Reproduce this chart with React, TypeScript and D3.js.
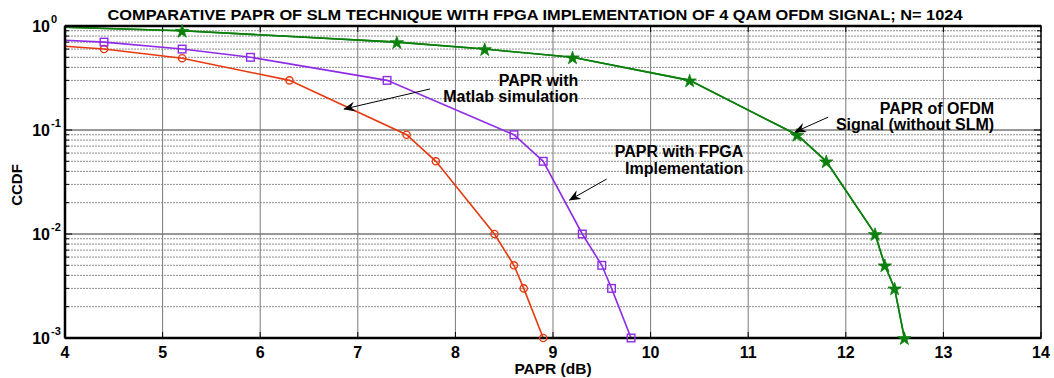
import React, { useEffect, useRef } from "react";
import * as d3 from "d3";

// PAPR (dB) / CCDF; first point lies left of the axis and is clipped
const matlabX = [3.6, 4.4, 5.2, 6.3, 7.5, 7.8, 8.4, 8.6, 8.7, 8.9];
const matlabY = [0.68, 0.6, 0.49, 0.3, 0.09, 0.05, 0.01, 0.005, 0.003, 0.001];

const fpgaX = [3.6, 4.4, 5.2, 5.9, 7.3, 8.6, 8.9, 9.3, 9.5, 9.6, 9.8];
const fpgaY = [0.76, 0.7, 0.6, 0.5, 0.3, 0.09, 0.05, 0.01, 0.005, 0.003, 0.001];

const ofdmX = [3.6, 5.2, 7.4, 8.3, 9.2, 10.4, 11.5, 11.8, 12.3, 12.4, 12.5, 12.6];
const ofdmY = [1.0, 0.9, 0.7, 0.6, 0.5, 0.3, 0.09, 0.05, 0.01, 0.005, 0.003, 0.001];

const xTicks = [4, 5, 6, 7, 8, 9, 10, 11, 12, 13, 14];
const yDecades = [1, 0.1, 0.01, 0.001];
const yExponents = ["0", "-1", "-2", "-3"];

const title =
  "COMPARATIVE PAPR OF SLM TECHNIQUE WITH FPGA IMPLEMENTATION OF 4 QAM OFDM SIGNAL; N= 1024";

// annotations: text lines, anchor (data coords), arrow tail -> head (data coords)
const notes = [
  { lines: ["PAPR with", "Matlab simulation"], x: 9.26, y: 0.265, tail: [7.74, 0.248], head: [6.86, 0.159] },
  { lines: ["PAPR with FPGA", "Implementation"], x: 10.95, y: 0.055, tail: [9.55, 0.0338], head: [9.17, 0.0212] },
  { lines: ["PAPR of OFDM", "Signal (without SLM)"], x: 13.52, y: 0.1426, tail: [11.82, 0.133], head: [11.48, 0.0957] },
];

const W = 1054;
const H = 378;
const margin = { top: 26, right: 13, bottom: 40, left: 65 };
const font = "'Liberation Sans', Arial, sans-serif";

function App() {
  const ref = useRef<SVGSVGElement>(null);

  useEffect(() => {
    const svg = d3.select(ref.current);
    svg.selectAll("*").remove();

    const x = d3.scaleLinear().domain([4, 14]).range([margin.left, W - margin.right]);
    const y = d3.scaleLog().domain([0.001, 1]).range([H - margin.bottom, margin.top]);
    const [x0, x1] = x.range();
    const [y1, y0] = y.range();

    svg.append("defs").append("clipPath").attr("id", "plot-clip")
      .append("rect").attr("x", x0).attr("y", y0).attr("width", x1 - x0).attr("height", y1 - y0);

    svg.append("defs").append("marker")
      .attr("id", "arrow").attr("viewBox", "0 0 12 10").attr("refX", 11).attr("refY", 5)
      .attr("markerWidth", 12).attr("markerHeight", 10).attr("markerUnits", "userSpaceOnUse")
      .attr("orient", "auto")
      .append("path").attr("d", "M0,0 L12,5 L0,10 L4,5 Z").attr("fill", "black");

    const minor: number[] = [];
    [0.001, 0.01, 0.1].forEach(d => {
      for (let k = 2; k <= 9; k++) minor.push(d * k);
    });

    // grid
    const grid = svg.append("g");
    grid.selectAll(".ym").data(minor).join("line")
      .attr("x1", x0).attr("x2", x1).attr("y1", d => y(d)).attr("y2", d => y(d))
      .attr("stroke", "#8c8c8c").attr("stroke-dasharray", "2,1");
    grid.selectAll(".yM").data(yDecades.slice(1, 3)).join("line")
      .attr("x1", x0).attr("x2", x1).attr("y1", d => y(d)).attr("y2", d => y(d))
      .attr("stroke", "#333");
    grid.selectAll(".xg").data(xTicks.slice(1, -1)).join("line")
      .attr("x1", d => x(d)).attr("x2", d => x(d)).attr("y1", y0).attr("y2", y1)
      .attr("stroke", "#7a7a7a");

    // ticks (inside)
    const ticks = svg.append("g").attr("stroke", "black");
    xTicks.forEach(t => {
      ticks.append("line").attr("x1", x(t)).attr("x2", x(t)).attr("y1", y1).attr("y2", y1 - 6);
      ticks.append("line").attr("x1", x(t)).attr("x2", x(t)).attr("y1", y0).attr("y2", y0 + 6);
    });
    minor.concat(yDecades).forEach(v => {
      const len = yDecades.includes(v) ? 7 : 4;
      ticks.append("line").attr("x1", x0).attr("x2", x0 + len).attr("y1", y(v)).attr("y2", y(v));
      ticks.append("line").attr("x1", x1).attr("x2", x1 - len).attr("y1", y(v)).attr("y2", y(v));
    });

    // series
    const series = [
      { xs: matlabX, ys: matlabY, color: "#e8380d", shape: "circle" },
      { xs: fpgaX, ys: fpgaY, color: "#8f2be6", shape: "square" },
      { xs: ofdmX, ys: ofdmY, color: "#0c800c", shape: "star" },
    ];
    const line = d3.line<[number, number]>().x(d => x(d[0])).y(d => y(d[1]));
    const plot = svg.append("g").attr("clip-path", "url(#plot-clip)");
    series.forEach(s => {
      const pts = s.xs.map((v, i) => [v, s.ys[i]] as [number, number]);
      plot.append("path").attr("d", line(pts)).attr("fill", "none")
        .attr("stroke", s.color).attr("stroke-width", 1.6);
    });

    // axes box
    svg.append("rect").attr("x", x0).attr("y", y0).attr("width", x1 - x0).attr("height", y1 - y0)
      .attr("fill", "none").attr("stroke", "black").attr("stroke-width", 1.5);
    svg.append("line").attr("x1", x0).attr("x2", x1).attr("y1", y1).attr("y2", y1)
      .attr("stroke", "black").attr("stroke-width", 2.5);
    svg.append("line").attr("x1", x0).attr("x2", x1).attr("y1", y0).attr("y2", y0)
      .attr("stroke", "black").attr("stroke-width", 2.5);
    svg.append("line").attr("x1", x0).attr("x2", x0).attr("y1", y0).attr("y2", y1)
      .attr("stroke", "black").attr("stroke-width", 2.5);

    // green line over top axis like the reference
    plot.append("path")
      .attr("d", line(ofdmX.map((v, i) => [v, ofdmY[i]] as [number, number])))
      .attr("fill", "none").attr("stroke", "#0c800c").attr("stroke-width", 1.6);

    // markers
    const star = d3.symbol().type(d3.symbolStar).size(55);
    series.forEach(s => {
      const pts = s.xs.map((v, i) => [v, s.ys[i]] as [number, number]).filter(d => d[0] >= 4);
      const g = svg.append("g");
      if (s.shape === "circle") {
        g.selectAll("circle").data(pts).join("circle")
          .attr("cx", d => x(d[0])).attr("cy", d => y(d[1])).attr("r", 3.6)
          .attr("fill", "none").attr("stroke", s.color).attr("stroke-width", 1.4);
      } else if (s.shape === "square") {
        g.selectAll("rect").data(pts).join("rect")
          .attr("x", d => x(d[0]) - 3.8).attr("y", d => y(d[1]) - 3.8)
          .attr("width", 7.6).attr("height", 7.6)
          .attr("fill", "none").attr("stroke", s.color).attr("stroke-width", 1.4);
      } else {
        g.selectAll("path").data(pts).join("path")
          .attr("d", star() as string)
          .attr("transform", d => `translate(${x(d[0])},${y(d[1]) + 0.8})`)
          .attr("fill", s.color).attr("stroke", s.color).attr("stroke-width", 0.8);
      }
    });

    // tick labels
    svg.append("g").selectAll("text").data(xTicks).join("text")
      .attr("x", d => x(d)).attr("y", y1 + 20)
      .attr("text-anchor", "middle").attr("font-family", font).attr("font-weight", "bold")
      .attr("font-size", 16).text(d => String(d));

    const yl = svg.append("g").attr("font-family", font).attr("font-weight", "bold");
    yDecades.forEach((d, i) => {
      yl.append("text").attr("x", 50).attr("y", y(d) + 6)
        .attr("text-anchor", "end").attr("font-size", 16).text("10");
      yl.append("text").attr("x", 51).attr("y", y(d) - 3)
        .attr("font-size", 11).text(yExponents[i]);
    });

    // title and axis labels
    svg.append("text").attr("x", 535).attr("y", 20).attr("text-anchor", "middle")
      .attr("font-family", font).attr("font-weight", "bold").attr("font-size", 15)
      .attr("textLength", 855).attr("lengthAdjust", "spacingAndGlyphs").text(title);
    svg.append("text").attr("x", 553).attr("y", 374).attr("text-anchor", "middle")
      .attr("font-family", font).attr("font-weight", "bold").attr("font-size", 15.5)
      .text("PAPR (dB)");
    svg.append("text").attr("transform", `translate(22,${(y0 + y1) / 2 + 3}) rotate(-90)`)
      .attr("text-anchor", "middle")
      .attr("font-family", font).attr("font-weight", "bold").attr("font-size", 15)
      .text("CCDF");

    // annotations
    notes.forEach(n => {
      const t = svg.append("text").attr("font-family", font).attr("font-weight", "bold")
        .attr("font-size", 16).attr("text-anchor", "end");
      n.lines.forEach((l, i) => {
        t.append("tspan").attr("x", x(n.x)).attr("y", y(n.y) + i * 16.5).text(l);
      });
      svg.append("line")
        .attr("x1", x(n.tail[0])).attr("y1", y(n.tail[1]))
        .attr("x2", x(n.head[0])).attr("y2", y(n.head[1]))
        .attr("stroke", "black").attr("stroke-width", 1).attr("marker-end", "url(#arrow)");
    });
  }, []);

  return (
    <svg ref={ref} width={W} height={H}
      style={{ position: "absolute", left: 0, top: 0, background: "white" }} />
  );
}

export default App;
